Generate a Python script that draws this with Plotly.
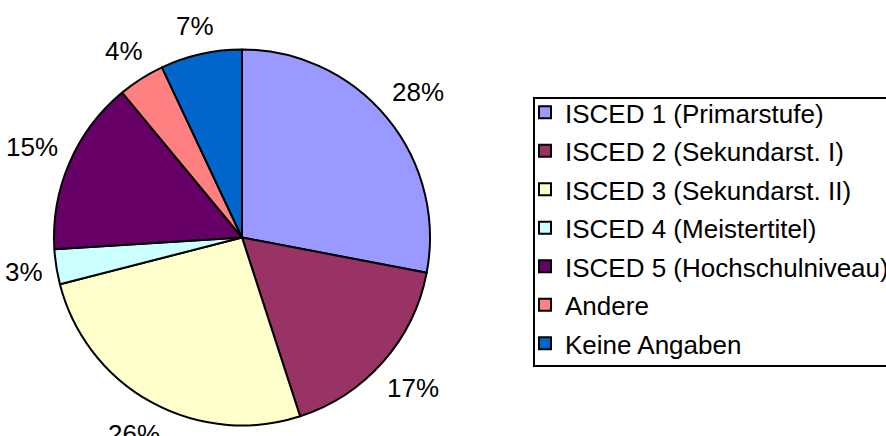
import math
import plotly.graph_objects as go

labels = ["ISCED 1 (Primarstufe)", "ISCED 2 (Sekundarst. I)", "ISCED 3 (Sekundarst. II)",
          "ISCED 4 (Meistertitel)", "ISCED 5 (Hochschulniveau)", "Andere", "Keine Angaben"]
values = [28, 17, 26, 3, 15, 4, 7]
colors = ["#9999FF", "#993366", "#FFFFCC", "#CCFFFF", "#660066", "#FF8080", "#0066CC"]

W, H = 886, 436
cx, cy, R = 242, 237.5, 188
label_gap = 12
pct_size = 26
font = "Arial, Liberation Sans, sans-serif"

legend_labels = [f'<span style="font-size:26px">{l}</span>' for l in labels]

fig = go.Figure(go.Pie(
    labels=legend_labels, values=values, sort=False, direction="clockwise", rotation=0,
    marker=dict(colors=colors, line=dict(color="black", width=2)),
    textinfo="none", hoverinfo="label+percent",
    domain=dict(x=[(cx - R) / W, (cx + R) / W], y=[1 - (cy + R) / H, 1 - (cy - R) / H]),
))


def text_width(s, size):
    return sum((0.889 if ch == "%" else 0.556) for ch in s) * size


total = sum(values)
cum = 0
annotations = []
for v in values:
    mid = (cum + v / 2) / total * 2 * math.pi
    cum += v
    txt = f"{round(v / total * 100)}%"
    half_w = text_width(txt, pct_size) / 2
    half_h = pct_size / 2
    s, c = math.sin(mid), math.cos(mid)
    dist = R + label_gap + abs(s) * half_w + abs(c) * half_h
    px = cx + dist * s
    py = cy - dist * c
    annotations.append(dict(x=px / W, y=1 - py / H, xref="paper", yref="paper",
                            text=txt, showarrow=False,
                            font=dict(size=pct_size, color="black", family=font),
                            xanchor="center", yanchor="middle"))

fig.update_layout(
    width=W, height=H, margin=dict(l=0, r=0, t=0, b=0, autoexpand=False),
    paper_bgcolor="white", plot_bgcolor="white",
    font=dict(family=font, size=26, color="black"),
    annotations=annotations,
    showlegend=True,
    legend=dict(x=525 / W, y=1 - 88 / H, xanchor="left", yanchor="top",
                borderwidth=0, bgcolor="rgba(0,0,0,0)",
                font=dict(size=27.3, family=font, color="black"),
                itemwidth=30),
    shapes=[dict(type="rect", xref="paper", yref="paper",
                 x0=534 / W, x1=1.05, y0=1 - 366 / H, y1=1 - 98 / H,
                 line=dict(color="black", width=2), fillcolor="rgba(0,0,0,0)", layer="below")],
)

fig.write_html("out.html", config={"displayModeBar": False},
               post_script="document.body.style.margin='0';document.body.style.overflow='hidden';")
